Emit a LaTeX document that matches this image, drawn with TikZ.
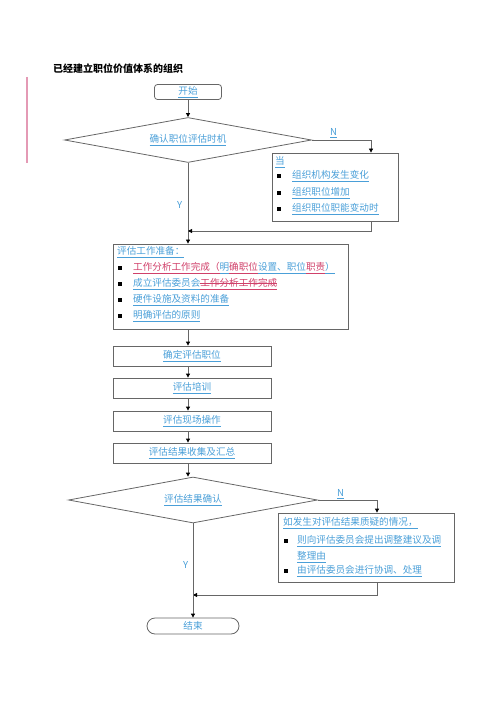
\documentclass[tikz,border=0pt]{standalone}
\usepackage{fontspec}
\usepackage{xcolor}
\usetikzlibrary{shapes.geometric,arrows.meta}
\newfontfamily\cjk{Noto Sans CJK SC}
\definecolor{lnk}{HTML}{4A9FD8}
\definecolor{mrk}{HTML}{D0406A}
\definecolor{rim}{HTML}{666666}
\definecolor{bar}{HTML}{E49AB5}
\newsavebox\strkbox
\newcommand{\bl}[1]{\textcolor{lnk}{\underline{#1}}}
\newcommand{\rd}[1]{\textcolor{mrk}{\underline{#1}}}
\newcommand{\strk}[1]{\sbox\strkbox{#1}\rlap{\rule[0.32em]{\wd\strkbox}{0.6pt}}\usebox\strkbox}

\begin{document}
\begin{tikzpicture}[x=1pt,y=-1pt,font=\cjk\fontsize{9.6}{11}\selectfont,
  box/.style={draw=rim,line width=.8pt,inner sep=0},
  decide/.style={diamond,draw=rim,line width=.8pt,aspect=5.5,inner sep=0},
  arr/.style={draw=rim,line width=.8pt,-{Triangle[black,length=4pt,width=4pt]}},
  ln/.style={draw=rim,line width=.8pt},
  txt/.style={anchor=west,inner sep=0},
  dot/.style={fill=black,minimum size=3.3pt,inner sep=0}]
\useasboundingbox (0,0) rectangle (500,708);
\draw[color=bar,line width=1.2pt] (27,77)--(27,163);
\node[txt,font=\cjk\bfseries\fontsize{10}{12}\selectfont] (title) at (53,69) {已经建立职位价值体系的组织};
\node[box,rounded corners=3pt,minimum width=67pt,minimum height=15pt] (start) at (188,92) {\bl{开始}};
\node[decide,minimum width=247pt,minimum height=45pt] (d1) at (188,140) {\bl{确认职位评估时机}};
\node[box,minimum width=126pt,minimum height=68pt] (cond) at (335,187) {};
\node[txt] (c0) at (275,162) {\bl{当}};
\node[dot] (c1b) at (279,176) {};\node[txt] (c1) at (292,176) {\bl{组织机构发生变化}};
\node[dot] (c2b) at (279,193) {};\node[txt] (c2) at (292,193) {\bl{组织职位增加}};
\node[dot] (c3b) at (279,209) {};\node[txt] (c3) at (292,209) {\bl{组织职位职能变动时}};
\node[txt] (n1) at (330,133) {\bl{N}};
\node[txt] (y1) at (177,205) {\textcolor{lnk}{Y}};
\coordinate (j1) at (188,231);
\node[box,minimum width=235pt,minimum height=85pt] (prep) at (230.5,286.5) {};
\node[txt] (q0) at (117,252) {\bl{评估工作准备：}};
\node[dot] (q1b) at (120,268) {};\node[txt] (q1) at (133,268) {\rd{工作分析工作完成（}\bl{明}\rd{确职位}\bl{设置、职位}\rd{职责}\bl{）}};
\node[dot] (q2b) at (120,284) {};\node[txt] (q2) at (133,284) {\bl{成立评估委员会}\textcolor{mrk}{\underline{\strk{工作分析工作完成}}}};
\node[dot] (q3b) at (120,300) {};\node[txt] (q3) at (133,300) {\bl{硬件设施及资料的准备}};
\node[dot] (q4b) at (120,316) {};\node[txt] (q4) at (133,316) {\bl{明确评估的原则}};
\node[box,minimum width=158pt,minimum height=20pt] (p1) at (192,356) {\bl{确定评估职位}};
\node[box,minimum width=158pt,minimum height=20pt] (p2) at (192,388) {\bl{评估培训}};
\node[box,minimum width=158pt,minimum height=20pt] (p3) at (192,421) {\bl{评估现场操作}};
\node[box,minimum width=158pt,minimum height=20pt] (p4) at (192,453) {\bl{评估结果收集及汇总}};
\node[decide,minimum width=249pt,minimum height=46pt] (d2) at (193,500) {\bl{评估结果确认}};
\node[box,minimum width=176pt,minimum height=69pt] (res) at (366,547.5) {};
\node[txt] (r0) at (283,523) {\bl{如发生对评估结果质疑的情况，}};
\node[dot] (r1b) at (286,541) {};\node[txt] (r1) at (297,541) {\bl{则向评估委员会提出调整建议及调}};
\node[txt] (r1c) at (297,557) {\bl{整理由}};
\node[dot] (r2b) at (286,571) {};\node[txt] (r2) at (297,571) {\bl{由评估委员会进行协调、处理}};
\node[txt] (n2) at (337,494) {\bl{N}};
\node[txt] (y2) at (183,565) {\textcolor{lnk}{Y}};
\coordinate (j2) at (193,595);
\node[box,rounded corners=8pt,minimum width=92pt,minimum height=16pt] (stop) at (193,626) {\textcolor{lnk}{结束}};
\draw[arr] (start)--(d1);
\draw[arr] (d1.east)-|([xshift=36pt]cond.north);
\draw[arr] (d1.south)--(d1.south|-prep.north);
\draw[arr] ([xshift=36pt]cond.south)|-(j1);
\draw[arr] (prep.south-|d1.south)--(p1.north-|d1.south);
\draw[arr] (p1.south-|d1.south)--(p2.north-|d1.south);
\draw[arr] (p2.south-|d1.south)--(p3.north-|d1.south);
\draw[arr] (p3.south-|d1.south)--(p4.north-|d1.south);
\draw[arr] (p4.south-|d1.south)--(d2.north-|d1.south);
\draw[arr] (d2.east)-|([xshift=11pt]res.north);
\draw[arr] ([xshift=11pt]res.south)|-(j2);
\draw[ln] (d2.south)--(j2);
\draw[arr] (j2)--(stop);
\end{tikzpicture}
\end{document}
